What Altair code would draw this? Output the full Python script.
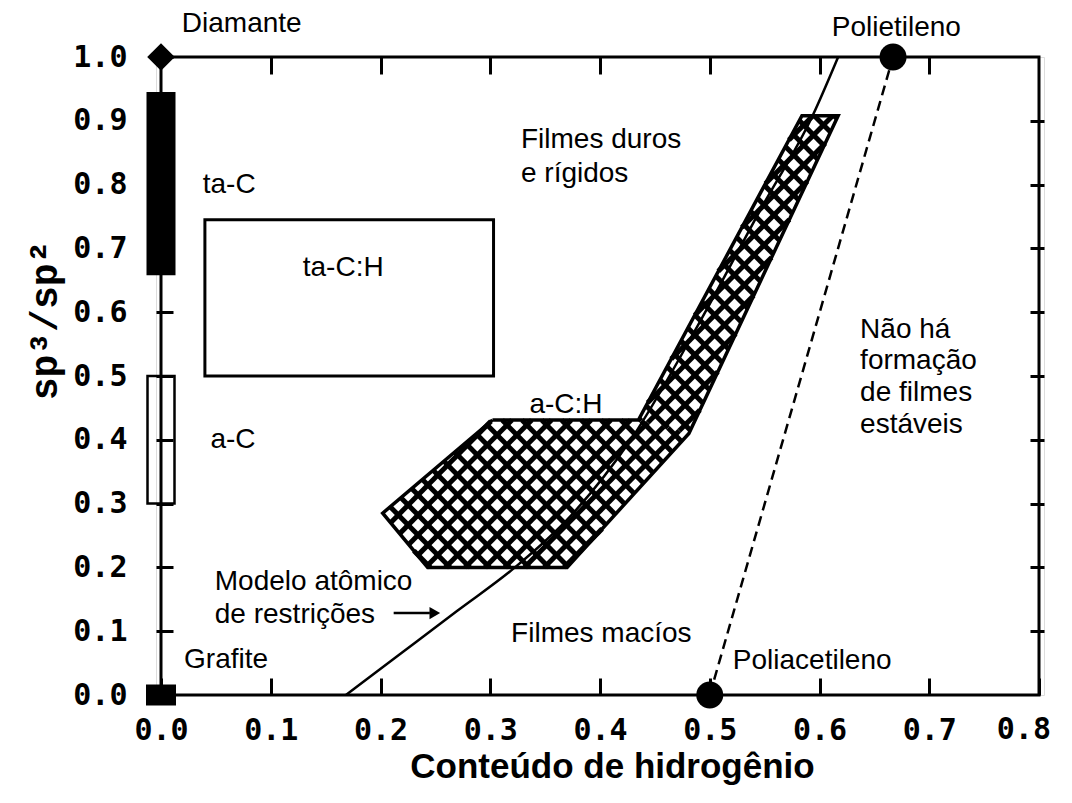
import altair as alt
import numpy as np
import pandas as pd

# ---------------- data ----------------
x_ticks = [0.0, 0.1, 0.2, 0.3, 0.4, 0.5, 0.6, 0.7, 0.8]
y_ticks = [0.0, 0.1, 0.2, 0.3, 0.4, 0.5, 0.6, 0.7, 0.8, 0.9, 1.0]

# plot frame (data domain)
frame_x = [0.0, 0.8]
frame_y = [0.0, 1.0]

# ta-C:H box
box_x = [0.04, 0.303]
box_y = [0.5, 0.745]

# bars on the y axis (ta-C filled, a-C open)
bar_name = ["ta-C", "a-C"]
bar_lo = [0.658, 0.30]
bar_hi = [0.945, 0.50]

# a-C:H region (outline vertices)
ach_x = [0.302, 0.435, 0.584, 0.617, 0.481, 0.37, 0.243, 0.202]
ach_y = [0.431, 0.431, 0.908, 0.908, 0.41, 0.2, 0.2, 0.285]
# the region as two convex pieces (indices into ach_x / ach_y)
piece_low = [0, 1, 4, 5, 6, 7]
piece_band = [1, 2, 3, 4]

# constraint model curve
curve_x = [0.1685, 0.220, 0.270, 0.3225, 0.374, 0.428, 0.492, 0.546, 0.594, 0.617]
curve_y = [0.0, 0.067, 0.132, 0.2, 0.282, 0.40, 0.588, 0.76, 0.909, 1.0]

# polyacetylene -> polyethylene dashed line
pe_x = [0.5, 0.667]
pe_y = [0.0, 1.0]

# markers
diamond_xy = (0.0, 1.0)
graphite_xy = (0.0, 0.0)

# arrow of "Modelo atomico de restricoes"
arrow_x = [0.212, 0.245]
arrow_y = [0.1285]
arrow_head_x = [0.2495]

# labels
left_text = ["Diamante", "ta-C", "a-C", "Grafite", "Modelo atômico", "de restrições",
             "Filmes macíos", "Poliacetileno", "Filmes duros", "e rígidos",
             "Não há", "formação", "de filmes", "estáveis"]
left_x = [0.019, 0.038, 0.045, 0.021, 0.049, 0.049,
          0.319, 0.521, 0.328, 0.328,
          0.637, 0.637, 0.637, 0.637]
left_y = [1.051, 0.799, 0.40, 0.055, 0.177, 0.125,
          0.096, 0.053, 0.87, 0.817,
          0.572, 0.523, 0.473, 0.423]
center_text = ["Polietileno", "ta-C:H", "a-C:H"]
center_x = [0.670, 0.166, 0.369]
center_y = [1.045, 0.669, 0.4545]

# ---------------- layout / style ----------------
W, H = 888, 638
XMAX, YMAX = 0.8, 1.0
HATCH = 20.0  # hatch spacing, px
SANS = "Liberation Sans"
MONO = "DejaVu Sans Mono"
FS = 28
LBL_FS = 30
LBL_PAD_X = 20

xs = alt.Scale(domain=[0, XMAX], nice=False, zero=False)
ys = alt.Scale(domain=[0, YMAX], nice=False, zero=False)

lbl = dict(labelFont=MONO, labelFontWeight="bold", labelFontSize=LBL_FS, labelColor="black")
ax_bottom = alt.Axis(orient="bottom", values=x_ticks, format=".1f", offset=-17, tickSize=17,
                     tickWidth=3, tickColor="black", domain=False, grid=False, labelPadding=LBL_PAD_X,
                     labelFlush=False, labelOverlap=False,
                     labelExpr=f"datum.value > {x_ticks[-1] - 0.01} ? '' : datum.label",
                     title="Conteúdo de hidrogênio",
                     titleFont=SANS, titleFontWeight="bold", titleFontSize=35, titleColor="black",
                     titleX=456, titleY=99, titleAlign="center", titleBaseline="alphabetic", **lbl)
ax_top = alt.Axis(orient="top", values=x_ticks[1:-1], offset=-17, tickSize=17, tickWidth=3,
                  tickColor="black", domain=False, grid=False, labels=False, title="")
ax_left = alt.Axis(orient="left", values=y_ticks, format=".1f", offset=-17, tickSize=17,
                   tickWidth=3, tickColor="black", domain=False, grid=False, labelPadding=29,
                   labelFlush=False, labelOverlap=False, title="sp³/sp²", titleFont="Liberation Mono",
                   titleFontWeight="bold", titleFontSize=38, titleColor="black", titleAngle=270,
                   titleX=-128, titleY=263, titleAlign="center", titleBaseline="middle", **lbl)
ax_right = alt.Axis(orient="right", values=y_ticks[1:-1], offset=-14, tickSize=14, tickWidth=3,
                    tickColor="black", domain=False, grid=False, labels=False, title="")


def X(axis=None, f="x"):
    return alt.X(f"{f}:Q", scale=xs, axis=axis)


def Y(axis=None, f="y"):
    return alt.Y(f"{f}:Q", scale=ys, axis=axis)


# ---------------- hatch texture for the a-C:H region ----------------
kx, ky = W / XMAX, H / YMAX


def clip(p0, d, P):
    tmin, tmax = -1e9, 1e9
    n = len(P)
    for i in range(n):
        a, b = P[i], P[(i + 1) % n]
        e = b - a
        nrm = np.array([e[1], -e[0]])
        num = nrm @ (a - p0)
        den = nrm @ d
        if abs(den) < 1e-12:
            if num < 0:
                return None
            continue
        t = num / den
        if den > 0:
            tmax = min(tmax, t)
        else:
            tmin = max(tmin, t)
    if tmin >= tmax:
        return None
    return p0 + tmin * d, p0 + tmax * d


def hatch(idx):
    P = np.column_stack([np.array(ach_x)[idx] * kx, np.array(ach_y)[idx] * ky])
    area = 0.5 * np.sum(P[:, 0] * np.roll(P[:, 1], -1) - np.roll(P[:, 0], -1) * P[:, 1])
    if area < 0:
        P = P[::-1]
    out = []
    for sgn in (1, -1):
        d = np.array([1.0, float(sgn)])
        c = P[:, 0] - sgn * P[:, 1]
        k0, k1 = int(np.floor(c.min() / HATCH)), int(np.ceil(c.max() / HATCH))
        for k in range(k0, k1 + 1):
            seg = clip(np.array([k * HATCH, 0.0]), d, P)
            if seg is not None:
                (a, b) = seg
                out.append({"x": a[0] / kx, "y": a[1] / ky, "x2": b[0] / kx, "y2": b[1] / ky})
    return out


hatch_df = pd.DataFrame(hatch(piece_low) + hatch(piece_band))

# ---------------- data frames ----------------
frame_df = pd.DataFrame({"x": [frame_x[0]], "x2": [frame_x[1]], "y": [frame_y[0]], "y2": [frame_y[1]]})
outline_df = pd.DataFrame({"x": ach_x + ach_x[:1], "y": ach_y + ach_y[:1],
                           "i": list(range(len(ach_x) + 1))})
box_df = pd.DataFrame({"x": [box_x[0]], "x2": [box_x[1]], "y": [box_y[0]], "y2": [box_y[1]]})
bars_df = pd.DataFrame({"name": bar_name, "x": [0.0, 0.0], "y": bar_lo, "y2": bar_hi})
curve_df = pd.DataFrame({"x": curve_x, "y": curve_y})
pe_df = pd.DataFrame({"x": pe_x, "y": pe_y})
dots_df = pd.DataFrame({"x": pe_x, "y": pe_y})
diamond_df = pd.DataFrame({"x": [diamond_xy[0]], "y": [diamond_xy[1]]})
graphite_df = pd.DataFrame({"x": [graphite_xy[0]], "y": [graphite_xy[1]]})
arrow_df = pd.DataFrame({"x": [arrow_x[0]], "x2": [arrow_x[1]], "y": arrow_y})
head_df = pd.DataFrame({"x": arrow_head_x, "y": arrow_y})
ltext_df = pd.DataFrame({"x": left_x, "y": left_y, "t": left_text})
ctext_df = pd.DataFrame({"x": center_x, "y": center_y, "t": center_text})
last_tick_df = pd.DataFrame({"x": [x_ticks[-1]], "y": [0.0], "t": [f"{x_ticks[-1]:.1f}"]})

# ---------------- layers ----------------
frame_l = alt.Chart(frame_df).mark_rect(fill="white", fillOpacity=0, stroke="black", strokeWidth=3).encode(
    x=X(ax_bottom), x2="x2:Q", y=Y(ax_left), y2="y2:Q")

hatch_l = alt.Chart(hatch_df).mark_rule(color="black", strokeWidth=5).encode(
    x=X(ax_top), y=Y(ax_right), x2="x2:Q", y2="y2:Q")

outline_l = alt.Chart(outline_df).mark_line(color="black", strokeWidth=3.5).encode(
    x=X(), y=Y(), order="i:Q")

box_l = alt.Chart(box_df).mark_rect(fill="white", fillOpacity=0, stroke="black", strokeWidth=3).encode(
    x=X(), x2="x2:Q", y=Y(), y2="y2:Q")

curve_l = alt.Chart(curve_df).mark_line(color="black", strokeWidth=2.5, interpolate="monotone").encode(
    x=X(), y=Y())

pe_l = alt.Chart(pe_df).mark_line(color="black", strokeWidth=2.5, strokeDash=[10, 6]).encode(
    x=X(), y=Y())

dots_l = alt.Chart(dots_df).mark_point(shape="circle", size=729, filled=True, color="black",
                                       opacity=1).encode(x=X(), y=Y())

bar_fill_l = alt.Chart(bars_df[bars_df.name == "ta-C"]).mark_bar(width=29, color="black").encode(
    x=X(), y=Y(), y2="y2:Q")
bar_open_l = alt.Chart(bars_df[bars_df.name == "a-C"]).mark_bar(
    width=27, fill="white", fillOpacity=0, stroke="black", strokeWidth=2.5).encode(
    x=X(), y=Y(), y2="y2:Q")

diamond_l = alt.Chart(diamond_df).mark_point(shape="diamond", size=760, filled=True, color="black",
                                             opacity=1).encode(x=X(), y=Y())
graphite_l = alt.Chart(graphite_df).mark_point(shape="M-1,-0.7L1,-0.7L1,0.7L-1,0.7Z", size=900,
                                               filled=True, color="black", opacity=1).encode(
    x=X(), y=Y())

arrow_l = alt.Chart(arrow_df).mark_rule(color="black", strokeWidth=2.5).encode(
    x=X(), x2="x2:Q", y=Y())
head_l = alt.Chart(head_df).mark_point(shape="triangle-right", size=150, filled=True, color="black",
                                       opacity=1).encode(x=X(), y=Y())

ltext_l = alt.Chart(ltext_df).mark_text(font=SANS, fontSize=FS, align="left", baseline="middle",
                                        color="black").encode(x=X(), y=Y(), text="t:N")
ctext_l = alt.Chart(ctext_df).mark_text(font=SANS, fontSize=FS, align="center", baseline="middle",
                                        color="black").encode(x=X(), y=Y(), text="t:N")
# last x tick label, drawn as text so it stays inside the page
last_tick_l = alt.Chart(last_tick_df).mark_text(font=MONO, fontWeight="bold", fontSize=LBL_FS,
                                                align="right", baseline="top", dx=12, dy=LBL_PAD_X,
                                                color="black").encode(x=X(), y=Y(), text="t:N")

chart = alt.layer(
    frame_l, hatch_l, outline_l, box_l, curve_l, pe_l, dots_l, bar_fill_l, bar_open_l,
    diamond_l, graphite_l, arrow_l, head_l, ltext_l, ctext_l, last_tick_l
).properties(
    width=W, height=H,
    padding={"left": 148, "top": 49, "right": 13, "bottom": 93},
    autosize=alt.AutoSizeParams(type="none"),
).configure_view(strokeWidth=0).configure(background="white")

chart.save("out.html", embed_options={"renderer": "svg", "actions": False})
